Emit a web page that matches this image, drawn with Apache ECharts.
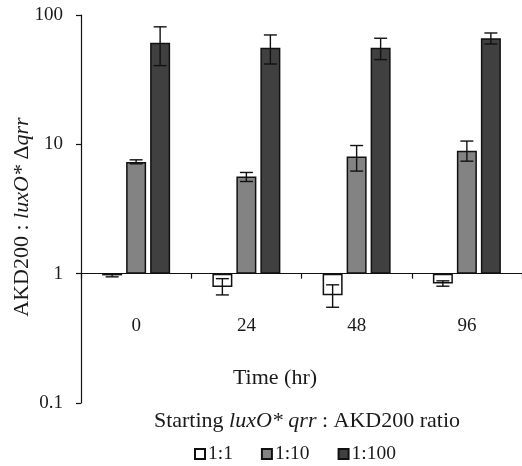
<!DOCTYPE html>
<html>
<head>
<meta charset="utf-8">
<script src="https://cdn.jsdelivr.net/npm/echarts@6/dist/echarts.min.js"></script>
<style>
html,body{margin:0;padding:0;background:#fff;}
#chart{width:522px;height:466px;}
</style>
</head>
<body>
<div id="chart"></div>
<script>
// ---- data ----
const categories = ['0', '24', '48', '96'];
const seriesNames = ['1:1', '1:10', '1:100'];
const ratio1 = [0.97, 0.79, 0.68, 0.84];
const ratio1Low = [0.945, 0.685, 0.55, 0.80];
const ratio1High = [0.995, 0.915, 0.82, 0.88];
const ratio10 = [7.3, 5.64, 8.05, 8.91];
const ratio10Low = [7.07, 5.16, 6.21, 7.41];
const ratio10High = [7.59, 6.06, 9.79, 10.6];
const ratio100 = [61, 55.9, 55.9, 66.1];
const ratio100Low = [40.6, 41.8, 45.2, 59.7];
const ratio100High = [81, 70.1, 66.1, 72.6];
const yTicks = [0.1, 1, 10, 100];

// ---- styling ----
const FONT = '"Liberation Serif", "DejaVu Serif", serif';
const TXT = '#1a1a1a';
const BAR_W = 20;
const BAR_GAP = 4;
const colors = ['#ffffff', '#838383', '#404040'];

const values = [ratio1, ratio10, ratio100];
const lows = [ratio1Low, ratio10Low, ratio100Low];
const highs = [ratio1High, ratio10High, ratio100High];

const errData = [];
for (let k = 0; k < 3; k++) {
  for (let c = 0; c < categories.length; c++) {
    errData.push([c, lows[k][c], highs[k][c], k]);
  }
}

const chart = echarts.init(document.getElementById('chart'), null, {renderer: 'canvas'});
const gridTop = 15, gridBottom = 63, H = 466;
const plotH = H - gridTop - gridBottom;
// x axis sits at y = 1 (one decade above 0.1 on a 3-decade log axis)
const xOffset = -plotH / 3;

const barSeries = seriesNames.map((name, k) => ({
  name: name,
  type: 'bar',
  data: values[k],
  barWidth: BAR_W,
  barGap: (BAR_GAP / BAR_W * 100) + '%',
  itemStyle: {color: colors[k], borderColor: '#111', borderWidth: 1.5},
  emphasis: {disabled: true},
  z: 2
}));

const option = {
  animation: false,
  backgroundColor: '#fff',
  grid: {left: 81, right: 0, top: gridTop, bottom: gridBottom, containLabel: false, outerBoundsMode: 'none'},
  legend: {
    data: seriesNames,
    left: 189,
    top: 439,
    icon: 'rect',
    itemWidth: 10,
    itemHeight: 10,
    itemGap: 28,
    textStyle: {fontFamily: FONT, fontSize: 19.5, color: TXT, padding: [0, 0, 0, -2]},
    selectedMode: false
  },
  xAxis: {
    type: 'category',
    data: categories,
    offset: xOffset,
    axisLine: {onZero: false, lineStyle: {color: '#111', width: 1.2}},
    axisTick: {show: true, length: 5, lineStyle: {color: '#111', width: 1.2}},
    axisLabel: {margin: 43, fontFamily: FONT, fontSize: 19, color: TXT},
    splitLine: {show: false}
  },
  yAxis: {
    type: 'log',
    logBase: 10,
    min: yTicks[0],
    max: yTicks[yTicks.length - 1],
    axisLine: {show: true, lineStyle: {color: '#111', width: 1.2}},
    axisTick: {show: true, length: 5, lineStyle: {color: '#111', width: 1.2}},
    axisLabel: {margin: 18, fontFamily: FONT, fontSize: 19, color: TXT,
      formatter: v => String(+Number(v).toPrecision(3))},
    splitLine: {show: false},
    name: '{n|AKD200 : }{i|luxO*}{n| Δ}{i|qrr}',
    nameLocation: 'middle',
    nameRotate: 90,
    nameGap: 48,
    nameMoveOverlap: false,
    nameTextStyle: {
      fontFamily: FONT, fontSize: 22, color: TXT,
      padding: [0, 16, 0, 0],
      rich: {
        n: {fontFamily: FONT, fontSize: 22, color: TXT},
        i: {fontFamily: FONT, fontSize: 22, color: TXT, fontStyle: 'italic'}
      }
    }
  },
  graphic: [
    {
      type: 'text', x: 275, y: 378,
      style: {text: 'Time (hr)', font: '22px ' + FONT, fill: TXT, align: 'center', verticalAlign: 'middle'}
    },
    {
      type: 'text', x: 307, y: 421,
      style: {
        text: '{n|Starting }{i|luxO* qrr}{n| : AKD200 ratio}',
        align: 'center', verticalAlign: 'middle',
        rich: {
          n: {fontFamily: FONT, fontSize: 22, fill: TXT},
          i: {fontFamily: FONT, fontSize: 22, fill: TXT, fontStyle: 'italic'}
        }
      }
    }
  ],
  series: barSeries.concat([{
    type: 'custom',
    name: 'err',
    data: errData,
    encode: {x: 0, y: [1, 2]},
    z: 5,
    silent: true,
    renderItem: function (params, api) {
      const c = api.value(0), lo = api.value(1), hi = api.value(2), k = api.value(3);
      const pLo = api.coord([c, lo]);
      const pHi = api.coord([c, hi]);
      const x = pLo[0] + (k - 1) * (BAR_W + BAR_GAP);
      const cap = 6.5;
      const st = {stroke: '#111', lineWidth: 1.4};
      return {
        type: 'group',
        children: [
          {type: 'line', shape: {x1: x, y1: pLo[1], x2: x, y2: pHi[1]}, style: st},
          {type: 'line', shape: {x1: x - cap, y1: pLo[1], x2: x + cap, y2: pLo[1]}, style: st},
          {type: 'line', shape: {x1: x - cap, y1: pHi[1], x2: x + cap, y2: pHi[1]}, style: st}
        ]
      };
    }
  }])
};
chart.setOption(option);
</script>
</body>
</html>
